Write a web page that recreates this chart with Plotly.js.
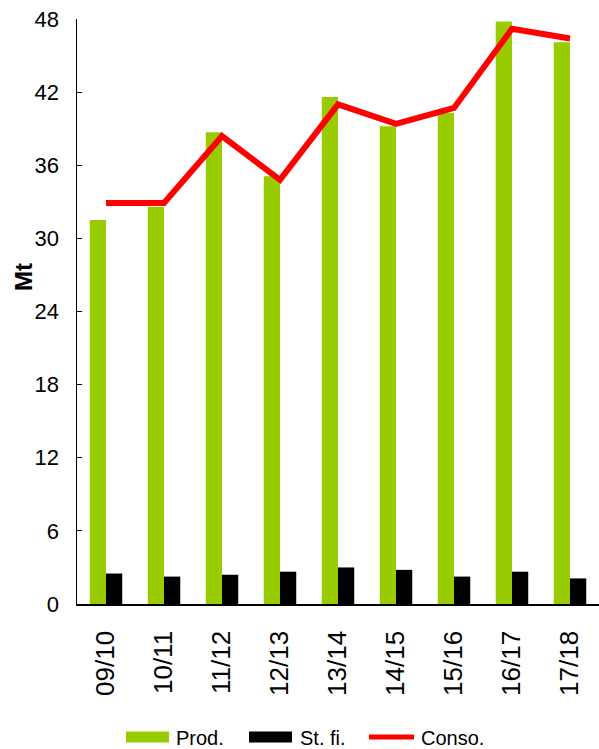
<!DOCTYPE html>
<html><head><meta charset="utf-8">
<script src="https://cdn.plot.ly/plotly-3.0.1.min.js"></script>
<style>html,body{margin:0;padding:0;background:#fff}#chart{width:599px;height:749px}</style>
</head><body><div id="chart"></div>
<script>
const seasons = ["09/10","10/11","11/12","12/13","13/14","14/15","15/16","16/17","17/18"];
const prod = [31.5, 32.6, 38.7, 35.1, 41.6, 39.2, 40.3, 47.8, 46.1];
const stocks = [2.5, 2.25, 2.4, 2.65, 3.0, 2.8, 2.25, 2.65, 2.1];
const conso = [32.9, 32.9, 38.4, 34.8, 41.0, 39.4, 40.7, 47.2, 46.4];
const yTicks = [0, 6, 12, 18, 24, 30, 36, 42, 48];
const seriesNames = ["Prod.", "St. fi.", "Conso."];
const seriesColors = ["#99CC00", "#000000", "#FF0000"];

const font = "Liberation Sans, Arial, sans-serif";
const W = 599, H = 749, L = 77, R = 0, T = 19, B = 145;
const pw = W - L - R, ph = H - T - B;
const px = v => (v - L) / pw;
const py = v => (H - B - v) / ph;

const data = [
  {type:"bar", name:seriesNames[0], x:seasons, y:prod, marker:{color:seriesColors[0]}},
  {type:"bar", name:seriesNames[1], x:seasons, y:stocks, marker:{color:seriesColors[1]}},
  {type:"scatter", mode:"lines", name:seriesNames[2], x:seasons, y:conso,
   line:{color:seriesColors[2], width:6}}
];

// custom legend (wide swatches like the original)
const legY = 737;
const legItems = [
  {sx0:126, sx1:169, tx:174},
  {sx0:249, sx1:292, tx:298},
  {sx0:367, sx1:416, tx:419}
];
const shapes = [], annotations = [];
legItems.forEach((it, i) => {
  if (i < 2) {
    shapes.push({type:"rect", xref:"paper", yref:"paper",
      x0:px(it.sx0), x1:px(it.sx1), y0:py(legY+5.5), y1:py(legY-5.5),
      fillcolor:seriesColors[i], line:{width:0}});
  } else {
    shapes.push({type:"line", xref:"paper", yref:"paper",
      x0:px(it.sx0+2), x1:px(it.sx1-2), y0:py(legY), y1:py(legY),
      line:{color:seriesColors[i], width:5}});
  }
  annotations.push({xref:"paper", yref:"paper", x:px(it.tx), y:py(legY+1),
    xanchor:"left", yanchor:"middle", text:seriesNames[i], showarrow:false,
    font:{size:20, family:font, color:"#000"}});
});
annotations.push({xref:"paper", yref:"paper", x:px(23), y:py(277),
  xanchor:"center", yanchor:"middle", text:"<b>Mt</b>", textangle:-90,
  showarrow:false, font:{size:24, family:font, color:"#000"}});

const layout = {
  width:W, height:H,
  margin:{l:L, r:R, t:T, b:B},
  paper_bgcolor:"#fff", plot_bgcolor:"#fff",
  font:{family:font, color:"#000"},
  barmode:"group", bargap:0.44, bargroupgap:0,
  showlegend:false,
  shapes:shapes, annotations:annotations,
  xaxis:{type:"category", showline:true, linecolor:"#000", linewidth:1.5,
         ticks:"", tickangle:-90, tickfont:{size:26}, ticklabelstandoff:15,
         showgrid:false, zeroline:false, automargin:false},
  yaxis:{range:[0,48], tickvals:yTicks, ticktext:yTicks.map(String),
         showline:true, linecolor:"#000", linewidth:1.5,
         ticks:"inside", ticklen:5, tickcolor:"#000", tickfont:{size:22},
         ticklabelstandoff:12,
         showgrid:false, zeroline:false, automargin:false}
};
Plotly.newPlot("chart", data, layout, {displayModeBar:false, staticPlot:true});
</script></body></html>
